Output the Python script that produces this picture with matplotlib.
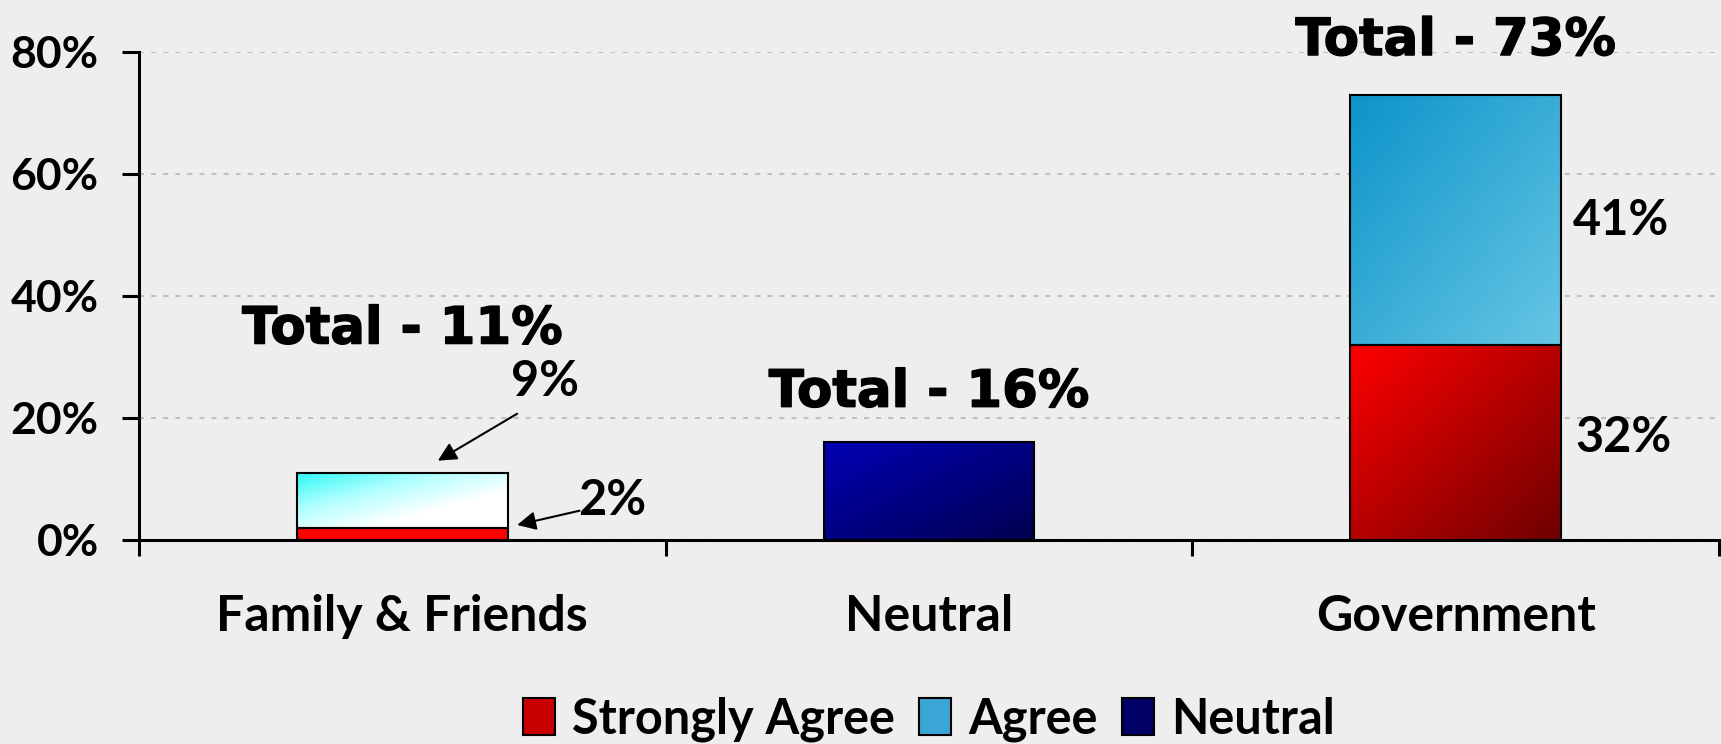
import matplotlib
matplotlib.use("Agg")
import matplotlib.pyplot as plt
import matplotlib.patheffects as pe
import numpy as np
from matplotlib.colors import LinearSegmentedColormap
from matplotlib.patches import Patch

categories = ["Family & Friends", "Neutral", "Government"]
strongly_agree = [0.02, 0.0, 0.32]
agree = [0.09, 0.0, 0.41]
neutral = [0.0, 0.16, 0.0]
totals = ["Total - 11%", "Total - 16%", "Total - 73%"]
yticks = [0, 0.2, 0.4, 0.6, 0.8]

BG = "#EEEEEE"
LABEL_FONT = "Lato"
TOTAL_FONT = "DejaVu Sans"


def gradient_fill(ax, bar, colors):
    # diagonal gradient, top-left -> bottom-right, clipped to the bar
    x0, y0 = bar.get_x(), bar.get_y()
    w, h = bar.get_width(), bar.get_height()
    u, v = np.meshgrid(np.linspace(0, 1, 200), np.linspace(0, 1, 200))
    t = (u + v) / 2
    cmap = LinearSegmentedColormap.from_list("g", colors)
    im = ax.imshow(t, cmap=cmap, extent=[x0, x0 + w, y0, y0 + h], origin="upper",
                   aspect="auto", interpolation="bilinear", zorder=bar.get_zorder() - 0.1)
    im.set_clip_path(bar)
    bar.set_facecolor("none")


fig = plt.figure(figsize=(17.21, 7.44), dpi=100, facecolor=BG)
ax = fig.add_axes([139 / 1721, 204 / 744, 1580 / 1721, 488 / 744])
ax.set_facecolor(BG)

x = np.arange(len(categories))
w = 0.4
b_sa = ax.bar(x, strongly_agree, w, edgecolor="black", linewidth=1.5, zorder=3)
b_ag = ax.bar(x, agree, w, bottom=strongly_agree, edgecolor="black", linewidth=1.5, zorder=3)
b_ne = ax.bar(x, neutral, w, edgecolor="black", linewidth=1.5, zorder=3)

# Family & Friends
b_sa[0].set_facecolor("#FF0000")
gradient_fill(ax, b_ag[0], ["#30F8F8", "#B0FFFF", "#FFFFFF", "#FFFFFF"])
# Neutral
gradient_fill(ax, b_ne[1], ["#0000B4", "#000050"])
# Government
gradient_fill(ax, b_sa[2], ["#FF0000", "#6E0000"])
gradient_fill(ax, b_ag[2], ["#0C94CA", "#66C6E4"])
for i in (0, 2):
    b_ne[i].set_visible(False)
b_sa[1].set_visible(False)
b_ag[1].set_visible(False)

ax.set_xlim(-0.5, 2.5)
ax.set_ylim(0, 0.8)

# axes styling
for s in ("top", "right"):
    ax.spines[s].set_visible(False)
for s in ("left", "bottom"):
    ax.spines[s].set_linewidth(2.2)
    ax.spines[s].set_zorder(5)

ax.set_yticks(yticks)
ax.set_yticklabels([f"{int(round(v * 100))}%" for v in yticks],
                   fontsize=32, fontweight="bold", family=LABEL_FONT)
ax.tick_params(axis="y", length=12, width=2.2, pad=17)
ax.set_xticks([-0.5, 0.5, 1.5, 2.5])
ax.set_xticklabels([])
ax.tick_params(axis="x", which="major", length=11.5, width=2.2)
ax.set_xticks(x, minor=True)
ax.set_xticklabels(categories, minor=True, fontsize=36, fontweight="bold", family=LABEL_FONT)
ax.tick_params(axis="x", which="minor", length=0, pad=39)

ax.yaxis.grid(True, color="#C0C0C0", linewidth=1.5, linestyle=(0, (2.4, 3.4)), zorder=0)
ax.set_axisbelow(True)

# totals
total_y = [0.322, 0.2185, 0.795]
heavy = [pe.withStroke(linewidth=1.0, foreground="black")]
for i, (txt, ty) in enumerate(zip(totals, total_y)):
    ax.text(x[i], ty, txt, ha="center", va="baseline", fontsize=37, fontweight="bold",
            family=TOTAL_FONT, clip_on=False, zorder=6, path_effects=heavy)

# value labels
val_kw = dict(ha="center", va="baseline", fontsize=35, fontweight="bold", family=LABEL_FONT)
ax.text(2.313, 0.500, f"{agree[2] * 100:.0f}%", **val_kw)
ax.text(2.319, 0.1448, f"{strongly_agree[2] * 100:.0f}%", **val_kw)

arrow = dict(arrowstyle="-|>", color="black", lw=1.5, mutation_scale=28, shrinkA=0, shrinkB=0)
ax.annotate("", xy=(0.0674, 0.130), xytext=(0.218, 0.207), arrowprops=arrow)
ax.text(0.270, 0.2354, f"{agree[0] * 100:.0f}%", **val_kw)
ax.annotate("", xy=(0.218, 0.0246), xytext=(0.3364, 0.048), arrowprops=arrow)
ax.text(0.3994, 0.041, f"{strongly_agree[0] * 100:.0f}%", **val_kw)

handles = [Patch(facecolor="#C80000", edgecolor="black", linewidth=1.5, label="Strongly Agree"),
           Patch(facecolor="#3AA6D6", edgecolor="black", linewidth=1.5, label="Agree"),
           Patch(facecolor="#000066", edgecolor="black", linewidth=1.5, label="Neutral")]
fig.legend(handles=handles, loc="lower center", bbox_to_anchor=(929 / 1721, -0.03), ncol=3,
           frameon=False, prop={"family": LABEL_FONT, "weight": "bold", "size": 35},
           handlelength=0.66, handleheight=0.8, handletextpad=0.35, columnspacing=0.5,
           borderpad=0)

fig.savefig("out.png", dpi=100, facecolor=BG)
